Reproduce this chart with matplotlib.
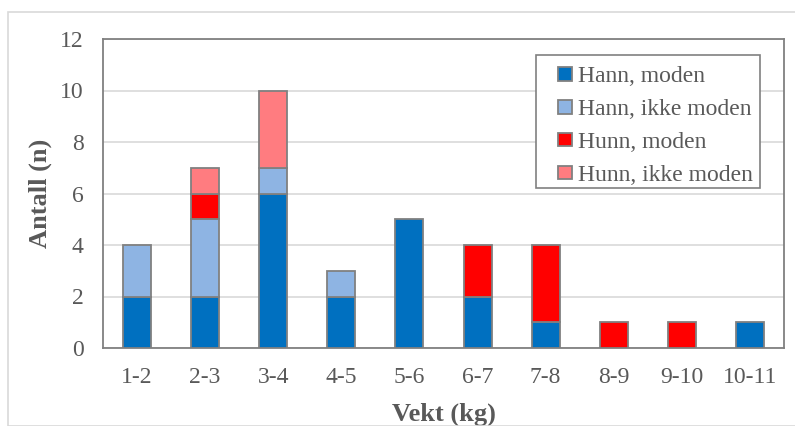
import matplotlib
matplotlib.use("Agg")
import matplotlib.pyplot as plt
import numpy as np
from matplotlib.patches import Rectangle
from matplotlib.legend_handler import HandlerPatch

categories = ["1-2", "2-3", "3-4", "4-5", "5-6", "6-7", "7-8", "8-9", "9-10", "10-11"]
hann_moden = [2, 2, 6, 2, 5, 2, 1, 0, 0, 1]
hann_ikke_moden = [2, 3, 1, 1, 0, 0, 0, 0, 0, 0]
hunn_moden = [0, 1, 0, 0, 0, 2, 3, 1, 1, 0]
hunn_ikke_moden = [0, 1, 3, 0, 0, 0, 0, 0, 0, 0]
series = [
    ("Hann, moden", hann_moden, "#0070C0"),
    ("Hann, ikke moden", hann_ikke_moden, "#8EB4E3"),
    ("Hunn, moden", hunn_moden, "#FF0000"),
    ("Hunn, ikke moden", hunn_ikke_moden, "#FF7C80"),
]

plt.rcParams['font.family'] = ['Liberation Serif', 'DejaVu Serif']
txt = "#595959"
W, H = 795, 426
fig = plt.figure(figsize=(W / 100, H / 100), dpi=100)
fig.patches.append(Rectangle((8/W, 0), 1, 1 - 12/H, transform=fig.transFigure,
                             fill=False, edgecolor="#D9D9D9", linewidth=1.2, zorder=0))
ax = fig.add_axes([103/W, 1 - 348/H, 681/W, 309/H])

x = np.arange(len(categories))
bottom = np.zeros(len(categories))
for name, vals, col in series:
    v = np.array(vals, dtype=float)
    mask = v > 0
    ax.bar(x[mask], v[mask], bottom=bottom[mask], width=0.41, color=col,
           edgecolor="#808080", linewidth=1.3, label=name, zorder=3)
    bottom += v
handles = [Rectangle((0, 0), 1, 1, facecolor=c, edgecolor="#808080", linewidth=1.3) for _, _, c in series]
labels = [n for n, _, _ in series]


def square_patch(legend, orig_handle, xdescent, ydescent, width, height, fontsize):
    s = height * 0.95
    return Rectangle((width - s - xdescent, -ydescent + (height - s) / 2), s, s)


ax.set_xlim(-0.5, len(categories) - 0.5)
ax.set_ylim(0, 12)
ax.set_yticks(range(0, 13, 2))
ax.set_xticks(x)
ax.set_xticklabels(categories)
ax.yaxis.grid(True, color="#D9D9D9", linewidth=1.2, zorder=0)
for s in ax.spines.values():
    s.set_color("#808080")
    s.set_linewidth(1.3)
ax.tick_params(axis='both', length=0, labelsize=17, colors=txt)
ax.tick_params(axis='x', pad=14)
ax.tick_params(axis='y', pad=14)
ax.set_xlabel("Vekt (kg)", fontsize=19, fontweight='bold', color=txt, labelpad=10)
ax.set_ylabel("Antall (n)", fontsize=19, fontweight='bold', color=txt, labelpad=6)

# legend frame drawn separately
frame = Rectangle((536/W, 1 - 188/H), 224/W, 133/H, transform=fig.transFigure,
                  facecolor="white", edgecolor="#808080", linewidth=1.2, zorder=4, clip_on=False)
ax.add_patch(frame)
leg = ax.legend(handles, labels, loc='upper right', bbox_to_anchor=(762/W, 1 - 57/H),
                bbox_transform=fig.transFigure, fontsize=17, frameon=False,
                handlelength=1.0, handleheight=0.55, handletextpad=0.25, labelspacing=0.5,
                borderpad=0.4, borderaxespad=0, labelcolor=txt,
                handler_map={Rectangle: HandlerPatch(patch_func=square_patch)})
leg.set_zorder(10)

fig.savefig("out.png", dpi=100)
